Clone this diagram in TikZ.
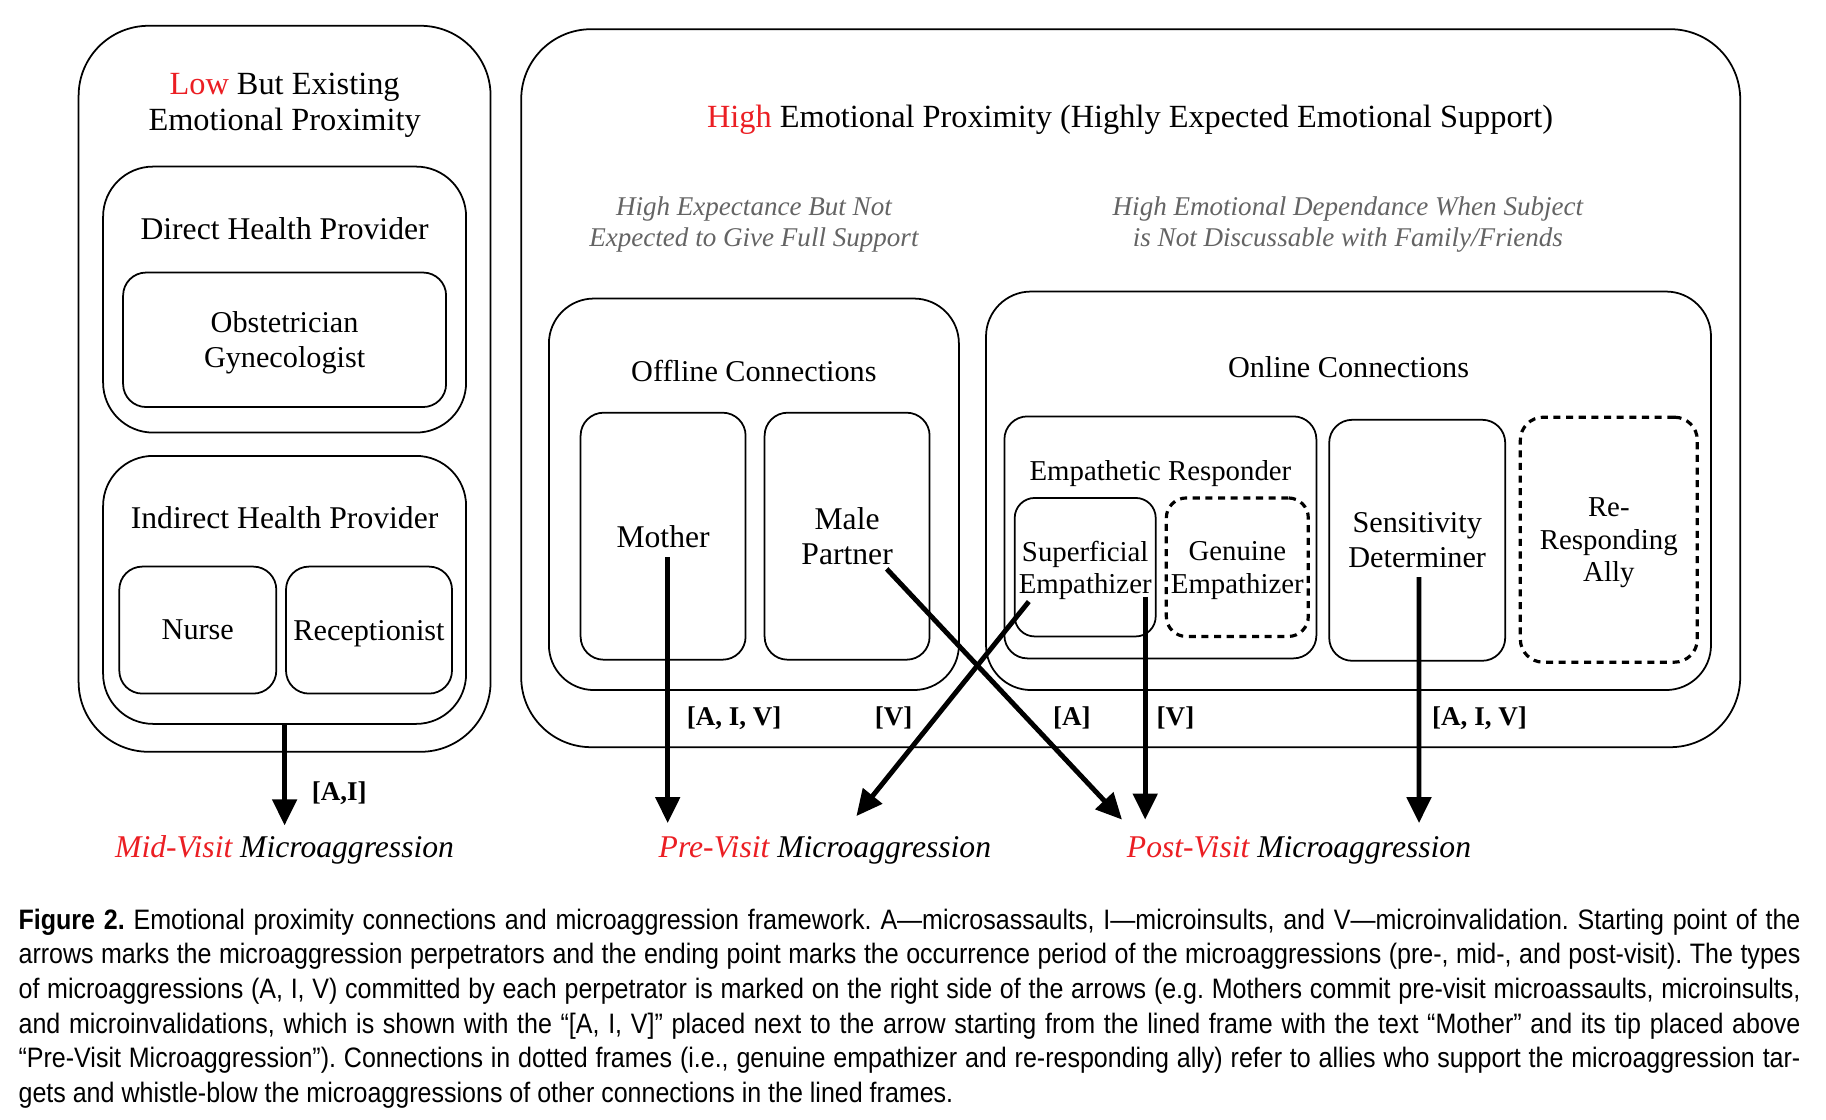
\documentclass[tikz,border=0pt]{standalone}
\usepackage{fontspec}
\setmainfont{Liberation Serif}
\newfontfamily\capfont[FakeStretch=0.89]{Liberation Sans}
\usetikzlibrary{arrows.meta}

\definecolor{hired}{RGB}{235,30,35}
\definecolor{subgray}{RGB}{100,100,100}

\newcommand*\ftit{\fontsize{9.2}{10.2}\selectfont}
\newcommand*\fhead{\fontsize{9}{10.2}\selectfont}
\newcommand*\fmed{\fontsize{8.6}{10}\selectfont}
\newcommand*\fsml{\fontsize{8.2}{9.3}\selectfont}
\newcommand*\fsub{\fontsize{7.7}{8.6}\selectfont}
\newcommand*\ftag{\fontsize{7.7}{9}\selectfont}

\begin{document}
\begin{tikzpicture}[x=0.1mm, y=-0.1mm]
    \tikzstyle{every node}=[inner sep=0pt, align=center]
    \tikzstyle{bigframe}=[draw, line width=0.5pt, rounded corners=7mm]
    \tikzstyle{midframe}=[draw, line width=0.5pt, rounded corners=4.5mm]
    \tikzstyle{smallbox}=[draw, line width=0.5pt, rounded corners=2.3mm]
    \tikzstyle{dashbox}=[smallbox, line width=0.9pt, dash pattern=on 2pt off 1.6pt]
    \tikzstyle{arrowline}=[line width=1.4pt, -{Triangle[length=2.6mm,width=2.4mm]}]
    \tikzstyle{tagtxt}=[font=\ftag\bfseries]
    \tikzstyle{visittxt}=[font=\fhead\itshape]
    \tikzstyle{subtxt}=[font=\fsub\itshape, text=subgray]
    \useasboundingbox (0,0) rectangle (1826,1120);

    % low but existing proximity
    \node[bigframe, minimum width=41.2mm, minimum height=72.6mm] (low) at (284.6,388.8) {};
    \node[font=\ftit] (lowtitle) at (284.6,105.5) {{\color{hired}Low} But Existing\\Emotional Proximity};
    \node[midframe, rounded corners=5mm, minimum width=36.3mm, minimum height=26.6mm] (direct) at (284.6,299.6) {};
    \node[font=\fhead] (directtitle) at (284.6,228.5) {Direct Health Provider};
    \node[smallbox, minimum width=32.3mm, minimum height=13.45mm, text depth=0pt, font=\fmed] (obgyn) at (284.6,339.8) {Obstetrician\\Gynecologist};
    \node[midframe, rounded corners=5mm, minimum width=36.3mm, minimum height=26.8mm] (indirect) at (284.6,589.9) {};
    \node[font=\fhead] (indirecttitle) at (284.6,517.6) {Indirect Health Provider};
    \node[smallbox, minimum width=15.7mm, minimum height=12.7mm, font=\fmed] (nurse) at (197.8,630.1) {Nurse};
    \node[smallbox, minimum width=16.6mm, minimum height=12.7mm, text depth=0pt, font=\fmed] (recep) at (369,630.1) {Receptionist};

    % high proximity
    \node[bigframe, minimum width=121.9mm, minimum height=71.8mm] (high) at (1130.7,388.2) {};
    \node[font=\ftit] (hightitle) at (1130.1,120) {{\color{hired}High} Emotional Proximity (Highly Expected Emotional Support)};
    \node[subtxt] (offsub) at (753.9,224.5) {High Expectance But Not\\Expected to Give Full Support};
    \node[subtxt] (onsub) at (1347.9,224.5) {High Emotional Dependance When Subject\\is Not Discussable with Family/Friends};

    \node[midframe, minimum width=41mm, minimum height=39.15mm] (offline) at (753.9,494.3) {};
    \node[font=\fmed] (offtitle) at (753.9,370.7) {Offline Connections};
    \node[smallbox, minimum width=16.5mm, minimum height=24.7mm, font=\fhead] (mother) at (663.1,536.2) {Mother};
    \node[smallbox, minimum width=16.5mm, minimum height=24.7mm, font=\fhead] (partner) at (847.1,536.2) {Male\\Partner};

    \node[midframe, minimum width=72.5mm, minimum height=39.85mm] (online) at (1348.5,490.8) {};
    \node[font=\fmed] (ontitle) at (1348.5,367.2) {Online Connections};
    \node[smallbox, minimum width=31.2mm, minimum height=24.2mm] (empath) at (1160.4,537.4) {};
    \node[font=\fsml] (empathtitle) at (1160.4,473.5) {Empathetic Responder};
    \node[smallbox, rounded corners=2mm, minimum width=14.1mm, minimum height=13.85mm, text depth=0pt, font=\fsml] (superficial) at (1085.2,567.2) {Superficial\\Empathizer};
    \node[dashbox, rounded corners=2mm, minimum width=14.2mm, minimum height=13.85mm, text depth=0pt, font=\fsml] (genuine) at (1237.3,567.2) {Genuine\\Empathizer};
    \node[smallbox, minimum width=17.6mm, minimum height=24.1mm, font=\fmed] (sensitivity) at (1417.2,540.3) {Sensitivity\\Determiner};
    \node[dashbox, minimum width=17.7mm, minimum height=24.5mm, text depth=0pt, font=\fsml] (ally) at (1608.8,539.7) {Re-\\Responding\\Ally};

    % microaggression periods
    \node[visittxt] (mid) at (284.6,850) {{\color{hired}Mid-Visit} Microaggression};
    \node[visittxt] (pre) at (824.9,850) {{\color{hired}Pre-Visit} Microaggression};
    \node[visittxt] (post) at (1299,850) {{\color{hired}Post-Visit} Microaggression};

    \coordinate (midtip) at (284.6,825.4);
    \coordinate (pretipa) at (667.7,823.1);
    \coordinate (pretipb) at (856.4,816.1);
    \coordinate (posttipa) at (1122,819.6);
    \coordinate (posttipb) at (1145.2,819.6);
    \coordinate (posttipc) at (1419,823.1);

    \draw[arrowline] (indirect.south) -- (midtip);
    \draw[arrowline] ([shift={(4.6,21)}]mother.center) -- (pretipa);
    \draw[arrowline] ([shift={(39.6,32.7)}]partner.center) -- (posttipa);
    \draw[arrowline] ([shift={(-56.4,34.4)}]superficial.center) -- (pretipb);
    \draw[arrowline] ([shift={(60,29.7)}]superficial.center) -- (posttipb);
    \draw[arrowline] ([shift={(1.8,36.75)}]sensitivity.center) -- (posttipc);

    \node[tagtxt] (tagmid) at (339.3,792.8) {[A,I]};
    \node[tagtxt] (tagmother) at (734.1,718) {[A, I, V]};
    \node[tagtxt] (tagpartner) at (893.7,718) {[V]};
    \node[tagtxt] (tagsupa) at (1071.9,718) {[A]};
    \node[tagtxt] (tagsupv) at (1175.5,718) {[V]};
    \node[tagtxt] (tagsens) at (1479.5,718) {[A, I, V]};

    % caption
    \node[anchor=north west, text width=178.2mm, align=justify,
          font=\capfont\fontsize{8}{9.86}\selectfont]
          (caption) at (17.9,908) {\frenchspacing\hyphenpenalty=10000 \tolerance=9999
        {\bfseries Figure 2.} Emotional proximity connections and microaggression framework. A—microsassaults, I—microinsults, and V—microinvalidation. Starting point of the\linebreak
        arrows marks the microaggression perpetrators and the ending point marks the occurrence period of the microaggressions (pre-, mid-, and post-visit). The types\linebreak
        of microaggressions (A, I, V) committed by each perpetrator is marked on the right side of the arrows (e.g. Mothers commit pre-visit microassaults, microinsults,\linebreak
        and microinvalidations, which is shown with the “[A, I, V]” placed next to the arrow starting from the lined frame with the text “Mother” and its tip placed above\linebreak
        “Pre-Visit Microaggression”). Connections in dotted frames (i.e., genuine empathizer and re-responding ally) refer to allies who support the microaggression tar-\linebreak
        gets and whistle-blow the microaggressions of other connections in the lined frames.};
\end{tikzpicture}
\end{document}
